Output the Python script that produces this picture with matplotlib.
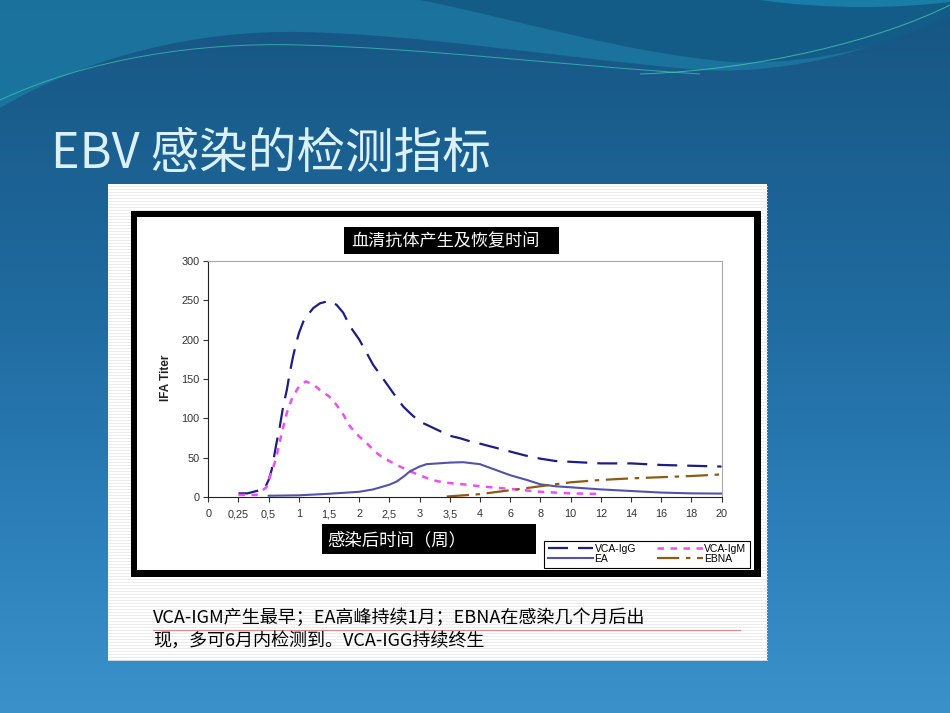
import numpy as np
import matplotlib
matplotlib.use("Agg")
import matplotlib.pyplot as plt
from matplotlib.patches import Rectangle, PathPatch
from matplotlib.path import Path
from matplotlib.colors import to_rgb

# ---------------- data ----------------
categories = ['0', '0,25', '0,5', '1', '1,5', '2', '2,5', '3', '3,5', '4',
              '6', '8', '10', '12', '14', '16', '18', '20']
yticks = [0, 50, 100, 150, 200, 250, 300]

# positions are category positions (0 = "0", 17 = "20")
igg_pos = [1.0, 1.3, 1.6, 1.85, 2.0, 2.1, 2.26, 2.37, 2.48, 2.6, 2.7, 2.81, 2.93, 3.0,
           3.15, 3.31, 3.48, 3.7, 4.0, 4.25, 4.47, 4.69, 5.0, 5.19, 5.46, 5.74, 6.0,
           6.24, 6.46, 6.73, 7.0, 7.23, 7.56, 7.84, 8.0, 8.33, 8.67, 9.0, 9.5, 10.0,
           10.5, 11.0, 11.5, 12.0, 13.0, 14.0, 15.0, 16.0, 17.0]
igg_val = [5, 5, 8, 10, 22, 35, 69, 90, 115, 136, 158, 179, 198, 208,
           223, 232, 240, 246, 249, 244, 234, 217, 200, 187, 168, 153, 139,
           126, 115, 105, 96, 92, 86, 81, 78, 75, 71, 68, 63, 58,
           53, 49, 46, 45, 43, 43, 41, 40, 39]

igm_pos = [1.0, 1.33, 1.6, 1.93, 2.04, 2.21, 2.32, 2.43, 2.6, 2.76, 2.93, 3.0, 3.23,
           3.48, 3.7, 4.0, 4.25, 4.47, 4.69, 5.0, 5.24, 5.52, 5.79, 6.0, 6.35, 6.68,
           7.0, 7.4, 7.78, 8.0, 8.44, 9.0, 10.0, 11.0, 12.0, 13.0]
igm_val = [3, 3, 3, 13, 26, 45, 62, 81, 107, 124, 136, 140, 147,
           143, 136, 128, 117, 105, 90, 77, 69, 58, 50, 46, 39, 33,
           28, 22, 19, 18, 16.5, 14, 10.6, 7, 5, 4.2]

ea_pos = [2.0, 3.0, 4.0, 5.0, 5.46, 6.0, 6.24, 6.46, 6.68, 7.0, 7.23, 8.0, 8.44,
          9.0, 9.5, 10.0, 10.55, 11.0, 11.5, 12.0, 13.0, 14.0, 15.0, 16.0, 17.0]
ea_val = [2, 2.5, 4.5, 7, 10, 16, 20, 26, 33, 39, 42, 44, 44.5,
          42, 35, 28, 22, 16.5, 14, 12.7, 10, 8, 6, 5, 4.7]

ebna_pos = [7.9, 9.0, 10.0, 11.0, 12.0, 13.0, 14.0, 15.0, 16.0, 17.0]
ebna_val = [1, 4, 9, 14, 19, 22, 24, 25.5, 27, 29]

series_names = ['VCA-IgG', 'VCA-IgM', 'EA', 'EBNA']

slide_title = 'EBV 感染的检测指标'
chart_title = '血清抗体产生及恢复时间'
x_title = '感染后时间（周）'
y_title = 'IFA Titer'
caption1 = 'VCA-IGM产生最早；EA高峰持续1月；EBNA在感染几个月后出'
caption2 = '现，多可6月内检测到。VCA-IGG持续终生'

CJK = ['Noto Sans CJK SC', 'DejaVu Sans']
LAT = ['Liberation Sans', 'DejaVu Sans']

W, H = 950, 713
fig = plt.figure(figsize=(W / 100, H / 100), dpi=100)

# ---------------- background slide ----------------
bg = fig.add_axes([0, 0, 1, 1])
bg.set_xlim(0, W)
bg.set_ylim(H, 0)
bg.axis('off')

stops_y = [0, 120, 300, 500, 713]
stops_c = ['#165582', '#1a5e8e', '#1f6a9e', '#2a7db6', '#3b92cb']
ys = np.arange(H)
cols = np.array([to_rgb(c) for c in stops_c])
grad = np.stack([np.interp(ys, stops_y, cols[:, k]) for k in range(3)], axis=-1)
grad = grad[:, None, :]
bg.imshow(grad, extent=[0, W, H, 0], aspect='auto', zorder=0)

def bez_path(start, segs, close_pts):
    verts = [start]
    codes = [Path.MOVETO]
    for c1, c2, p in segs:
        verts += [c1, c2, p]
        codes += [Path.CURVE4] * 3
    for p in close_pts:
        verts.append(p)
        codes.append(Path.LINETO)
    verts.append(start)
    codes.append(Path.CLOSEPOLY)
    return Path(verts, codes)

wave1 = bez_path((0, 108),
                 [((90, 55), (200, 30), (300, 32)),
                  ((420, 34), (560, 58), (700, 70)),
                  ((800, 76), (900, 40), (950, 15))],
                 [(950, 0), (0, 0)])
bg.add_patch(PathPatch(wave1, facecolor='#1b76a0', edgecolor='none', alpha=0.9, zorder=1))

wave2 = bez_path((420, 0),
                 [((520, 20), (620, 52), (730, 62)),
                  ((820, 66), (900, 40), (950, 22))],
                 [(950, 0)])
bg.add_patch(PathPatch(wave2, facecolor='#145a86', edgecolor='none', alpha=0.9, zorder=1))

wave3 = bez_path((760, 0),
                 [((830, 10), (900, 8), (950, 2))],
                 [(950, 0)])
bg.add_patch(PathPatch(wave3, facecolor='#1c86ad', edgecolor='none', alpha=0.8, zorder=1))

line1 = Path([(0, 100), (90, 58), (200, 42), (300, 45), (420, 48), (560, 65), (700, 74)],
             [Path.MOVETO, Path.CURVE4, Path.CURVE4, Path.CURVE4,
              Path.CURVE4, Path.CURVE4, Path.CURVE4])
bg.add_patch(PathPatch(line1, facecolor='none', edgecolor='#40c8c0', lw=0.7, alpha=0.7, zorder=2))
line2 = Path([(640, 74), (760, 70), (880, 40), (950, 5)],
             [Path.MOVETO, Path.CURVE4, Path.CURVE4, Path.CURVE4])
bg.add_patch(PathPatch(line2, facecolor='none', edgecolor='#4fd6b8', lw=0.7, alpha=0.7, zorder=2))

# title
fig.text(51 / W, 1 - 168 / H, slide_title, fontsize=35, color='#dbf1fa',
         family=CJK, ha='left', va='baseline')

# white panel with faint stripes
bg.add_patch(Rectangle((107.5, 184), 767 - 107.5, 660 - 184, facecolor='white',
                       edgecolor='none', zorder=3))
for yy in np.arange(185.5, 660, 3):
    bg.plot([107.5, 767], [yy, yy], color='#e9e9e9', lw=0.6, zorder=3.5)

# black framed chart area
bg.add_patch(Rectangle((130.7, 210.7), 761 - 130.7, 577 - 210.7, facecolor='black',
                       edgecolor='none', zorder=4))
bg.add_patch(Rectangle((137.3, 217.3), 753.5 - 137.3, 570 - 217.3, facecolor='white',
                       edgecolor='none', zorder=5))

# chart title box
bg.add_patch(Rectangle((344.3, 227.3), 215, 27, facecolor='black', edgecolor='none', zorder=6))
fig.text(351.5 / W, 1 - 241 / H, chart_title, fontsize=12.3, color='white', family=CJK,
         ha='left', va='center')

# x title box
bg.add_patch(Rectangle((322, 524), 214, 30, facecolor='black', edgecolor='none', zorder=6))
fig.text(327.5 / W, 1 - 540 / H, x_title, fontsize=12.5, color='white', family=CJK,
         ha='left', va='center')

# caption
fig.text(153 / W, 1 - 618 / H, caption1, fontsize=13, color='black', family=CJK,
         ha='left', va='center')
fig.text(153 / W, 1 - 641 / H, caption2, fontsize=13, color='black', family=CJK,
         ha='left', va='center')
bg.plot([153, 740], [629.5, 629.5], color='#d98a8a', lw=0.8, zorder=6)

# ---------------- chart ----------------
left, right, top, bottom = 208.3, 721.5, 260.7, 497.3
ax = fig.add_axes([left / W, 1 - bottom / H, (right - left) / W, (bottom - top) / H])
ax.set_facecolor('white')
ax.set_xlim(0, len(categories) - 1)
ax.set_ylim(0, 300)

l_igg, = ax.plot(igg_pos, igg_val, color='#1d1d86', lw=1.6, linestyle=(0, (9, 4.5)),
                 label=series_names[0], solid_capstyle='butt', dash_capstyle='butt')
l_igm, = ax.plot(igm_pos, igm_val, color='#f04ef0', lw=1.8, linestyle=(0, (2.6, 2.6)),
                 label=series_names[1], dash_capstyle='butt')
l_ea, = ax.plot(ea_pos, ea_val, color='#5252a8', lw=1.5, linestyle='-',
                label=series_names[2])
l_ebna, = ax.plot(ebna_pos, ebna_val, color='#8a5c14', lw=1.6,
                  linestyle=(0, (10, 3, 2, 3)), label=series_names[3], dash_capstyle='butt')

ax.set_xticks(range(len(categories)))
ax.set_xticklabels(categories)
ax.set_yticks(yticks)
ax.set_yticklabels([str(v) for v in yticks])
for lab in ax.get_xticklabels() + ax.get_yticklabels():
    lab.set_family(LAT)
ax.tick_params(axis='both', direction='out', length=3.5, width=0.8, colors='#333333',
               labelsize=7.8)
ax.tick_params(axis='x', pad=5)
ax.tick_params(axis='y', pad=3)
for side in ['top', 'right']:
    ax.spines[side].set_color('#a8a8a8')
    ax.spines[side].set_linewidth(0.8)
for side in ['left', 'bottom']:
    ax.spines[side].set_color('#222222')
    ax.spines[side].set_linewidth(0.8)

fig.text(166 / W, 1 - 378 / H, y_title, fontsize=8.5, fontweight='bold', color='#222222',
         family=LAT, rotation=90, ha='center', va='center')

leg = ax.legend(handles=[l_igg, l_ea, l_igm, l_ebna], ncol=2, loc='upper left',
                bbox_to_anchor=(544 / W, 1 - 540.5 / H), bbox_transform=fig.transFigure,
                borderaxespad=0, frameon=True, fancybox=False, framealpha=1,
                edgecolor='black', prop={'family': LAT, 'size': 7.5},
                handlelength=4.4, handletextpad=0.1, columnspacing=2.0,
                labelspacing=0.0, borderpad=0.35)
leg.get_frame().set_linewidth(0.8)

fig.savefig('out.png', dpi=100)
